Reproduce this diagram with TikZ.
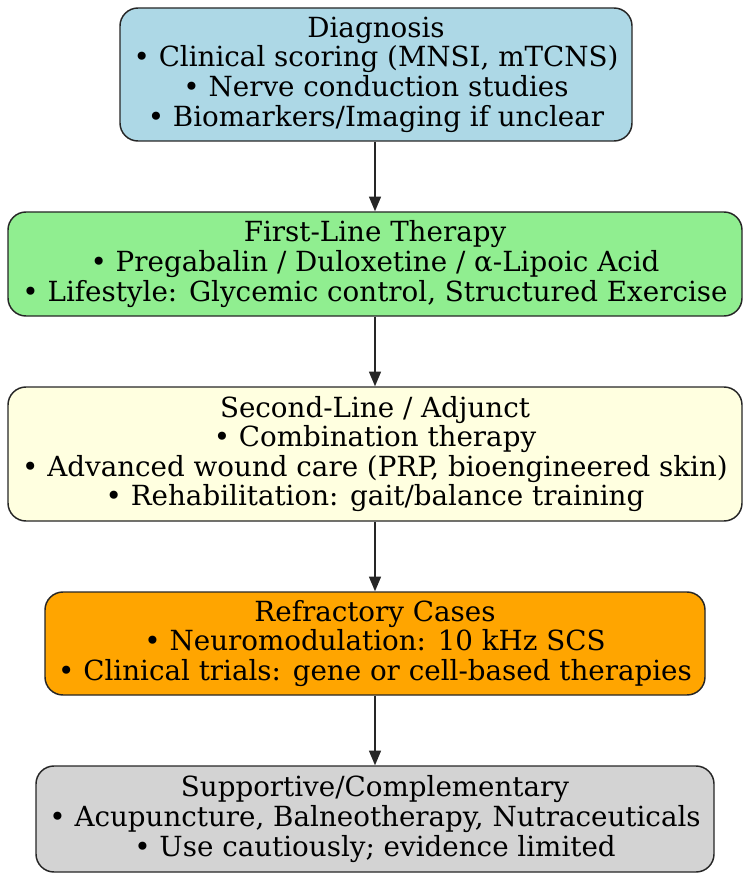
\documentclass[tikz,border=0pt]{standalone}
\usepackage{fontspec}
\setmainfont{DejaVu Serif}
\usetikzlibrary{arrows.meta}
\definecolor{cDiag}{HTML}{ADD8E6}
\definecolor{cFirst}{HTML}{90EE90}
\definecolor{cSecond}{HTML}{FFFFE0}
\definecolor{cRefr}{HTML}{FFA500}
\definecolor{cSupp}{HTML}{D3D3D3}
\begin{document}
\begin{tikzpicture}[x=0.75pt,y=-0.75pt,
  box/.style={draw=black!85, line width=1.1pt, rounded corners=13.5pt, align=center,
    inner sep=0pt, font=\fontsize{20.8}{22.2}\selectfont, text=black},
  conn/.style={draw=black!85, line width=1.1pt, -{Triangle[length=11pt,width=9pt]}}]
\useasboundingbox (0,0) rectangle (750,880);
\node[box, fill=cDiag, minimum width=384pt, minimum height=99.75pt] (diag) at (376,74.5)
  {Diagnosis\\ • Clinical scoring (MNSI, mTCNS)\\ • Nerve conduction studies\\ • Biomarkers/Imaging if unclear};
\node[box, fill=cFirst, minimum width=550.5pt, minimum height=78pt] (first) at (375,264)
  {First-Line Therapy\\ • Pregabalin / Duloxetine / α-Lipoic Acid\\ • Lifestyle: Glycemic control, Structured Exercise};
\node[box, fill=cSecond, minimum width=550.5pt, minimum height=100.5pt] (second) at (375,454)
  {Second-Line / Adjunct\\ • Combination therapy\\ • Advanced wound care (PRP, bioengineered skin)\\ • Rehabilitation: gait/balance training};
\node[box, fill=cRefr, minimum width=495pt, minimum height=77.25pt] (refr) at (375,643.5)
  {Refractory Cases\\ • Neuromodulation: 10 kHz SCS\\ • Clinical trials: gene or cell-based therapies};
\node[box, fill=cSupp, minimum width=508.5pt, minimum height=79.5pt] (supp) at (375,819)
  {Supportive/Complementary\\ • Acupuncture, Balneotherapy, Nutraceuticals\\ • Use cautiously; evidence limited};
\draw[conn] (diag.south -| 375,0) -- (first.north);
\draw[conn] (first.south) -- (second.north);
\draw[conn] (second.south) -- (refr.north);
\draw[conn] (refr.south) -- (supp.north);
\end{tikzpicture}
\end{document}
